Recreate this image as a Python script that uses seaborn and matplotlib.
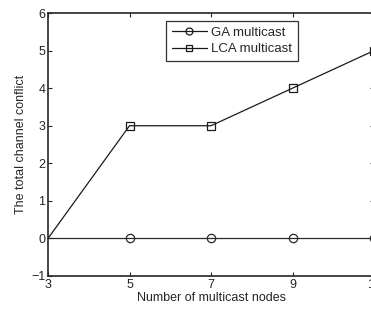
import pandas as pd
import matplotlib
matplotlib.use("Agg")
import matplotlib.pyplot as plt
from matplotlib.lines import Line2D
import seaborn as sns

nodes = [3, 5, 7, 9, 11]
ga_conflict = [0, 0, 0, 0, 0]
lca_conflict = [0, 3, 3, 4, 5]
series_names = ["GA multicast", "LCA multicast"]
series_markers = ["o", "s"]

df = pd.DataFrame({
    "nodes": nodes * 2,
    "conflict": ga_conflict + lca_conflict,
    "method": [series_names[0]] * len(nodes) + [series_names[1]] * len(nodes),
})

sns.set_style("ticks")
plt.rcParams['font.family'] = ['Liberation Sans', 'DejaVu Sans']
plt.rcParams['axes.unicode_minus'] = True

fig = plt.figure(figsize=(3.71, 3.09), dpi=100)
# axes runs slightly past the right edge, as in the cropped original
ax = fig.add_axes([0.1294, 0.1068, 0.8787, 0.851])

sns.lineplot(data=df, x="nodes", y="conflict", hue="method", style="method",
             markers=dict(zip(series_names, series_markers)), dashes=False,
             palette={series_names[0]: "#2a2a2a", series_names[1]: "#1a1a1a"},
             markersize=6, markerfacecolor="none", markeredgewidth=0.9,
             linewidth=0.9, markevery=slice(1, None), ax=ax, clip_on=False,
             legend=False)
for ln in ax.lines:
    ln.set_markeredgecolor(ln.get_color())
    ln.set_markerfacecolor("none")

ax.set_xlim(3, 11)
ax.set_ylim(-1, 6)
ax.set_xticks([3, 5, 7, 9, 11])
ax.set_yticks(range(-1, 7))
ax.tick_params(direction="in", top=True, right=True, labelsize=9, length=3, width=0.8, pad=2)
for s in ax.spines.values():
    s.set_linewidth(1.2)
    s.set_visible(True)
ax.set_xlabel("Number of multicast nodes", fontsize=9, labelpad=1)
ax.set_ylabel("The total channel conflict", fontsize=9, labelpad=3)

handles = [Line2D([], [], color="#1a1a1a", lw=0.9, marker=m, markersize=5,
                  markerfacecolor="none", markeredgewidth=0.9)
           for m in series_markers]
leg = ax.legend(handles, series_names, loc="upper center",
                bbox_to_anchor=(0.565, 0.97), fontsize=9.5, numpoints=1,
                frameon=True, fancybox=False, handlelength=2.6, handletextpad=0.35,
                borderpad=0.45, labelspacing=0.3, borderaxespad=0)
leg.get_frame().set_edgecolor("black")
leg.get_frame().set_linewidth(0.9)

fig.savefig("out.png", dpi=100)
